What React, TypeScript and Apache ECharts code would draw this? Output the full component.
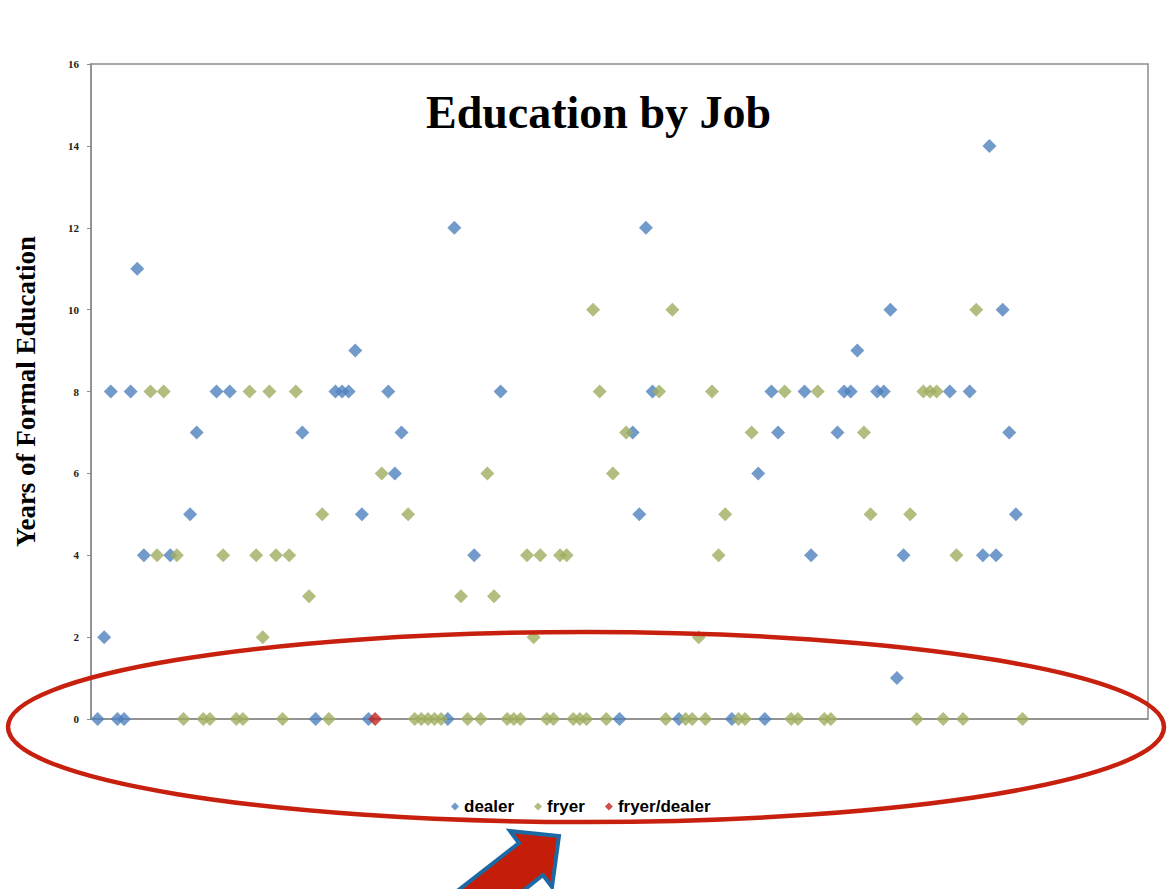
import React, { useEffect, useRef } from "react";
import * as echarts from "echarts";

const titleText = "Education by Job";
const yAxisName = "Years of Formal Education";
const seriesNames = ["dealer", "fryer", "fryer/dealer"];

const dealerX = [1,2,3,4,5,6,7,8,12,15,16,19,21,32,34,37,38,39,40,41,42,45,46,47,54,55,58,62,80,82,83,84,85,89,97,101,102,103,104,108,109,113,114,115,116,119,120,121,122,123,130,133,135,136,137,138,139,140];
const dealerY = [0,2,8,0,0,8,11,4,4,5,7,8,8,7,0,8,8,8,9,5,0,8,6,7,0,12,4,8,0,7,5,12,8,0,0,6,0,8,7,8,4,7,8,8,9,8,8,10,1,4,8,8,4,14,4,10,7,5];

const fryerX = [9,10,11,13,14,17,18,20,22,23,24,25,26,27,28,29,30,31,33,35,36,44,48,49,50,51,52,53,56,57,59,60,61,63,64,65,66,67,68,69,70,71,72,73,74,75,76,77,78,79,81,86,87,88,90,91,92,93,94,95,96,98,99,100,105,106,107,110,111,112,117,118,124,125,126,127,128,129,131,132,134,141];
const fryerY = [8,4,8,4,0,0,0,4,0,0,8,4,2,8,4,0,4,8,3,5,0,6,5,0,0,0,0,0,3,0,0,6,3,0,0,0,4,2,4,0,0,4,4,0,0,0,10,8,0,6,7,8,0,10,0,0,2,0,8,4,5,0,0,7,8,0,0,8,0,0,7,5,5,0,8,8,8,0,4,0,10,0];

const bothX = [43];
const bothY = [0];

const yTicks = [0, 2, 4, 6, 8, 10, 12, 14, 16];

const pair = (xs: number[], ys: number[]) => xs.map((x, i) => [x, ys[i]]);

export default function App() {
  const ref = useRef<HTMLDivElement>(null);
  useEffect(() => {
    if (!ref.current) return;
    const chart = echarts.init(ref.current, null, { renderer: "svg" });
    const serif = "'Liberation Serif', 'DejaVu Serif', serif";
    const colors = ["#4F81BD", "#9FAE5F", "#C0241F"];
    chart.setOption({
      animation: false,
      backgroundColor: "#ffffff",
      color: colors,
      title: {
        text: titleText,
        left: 421,
        top: 84,
        textStyle: { fontFamily: serif, fontWeight: "bold", fontSize: 46, color: "#000" },
      },
      grid: {
        left: 91,
        right: 19,
        top: 64,
        bottom: 170,
        show: true,
        borderColor: "#8C8C8C",
        borderWidth: 1.5,
      },
      legend: {
        data: seriesNames,
        top: 793,
        left: 446,
        icon: "diamond",
        itemWidth: 8,
        itemHeight: 8,
        itemGap: 20,
        textStyle: { fontFamily: "'Liberation Sans', Arial, sans-serif", fontWeight: "bold", fontSize: 17, color: "#000" },
      },
      xAxis: {
        type: "value",
        min: 0,
        max: 160,
        axisLabel: { show: false },
        axisTick: { show: false },
        splitLine: { show: false },
        axisLine: { show: true, lineStyle: { color: "#8C8C8C", width: 1.5 } },
      },
      yAxis: {
        type: "value",
        min: yTicks[0],
        max: yTicks[yTicks.length - 1],
        interval: 2,
        name: yAxisName,
        nameLocation: "middle",
        nameRotate: 90,
        nameGap: 52,
        nameTextStyle: { fontFamily: serif, fontWeight: "bold", fontSize: 27, color: "#000" },
        axisLine: { show: true, lineStyle: { color: "#8C8C8C", width: 1.5 } },
        axisTick: { show: true, length: 4, lineStyle: { color: "#8C8C8C" } },
        splitLine: { show: false },
        axisLabel: { fontFamily: serif, fontWeight: "bold", fontSize: 11, color: "#222", margin: 12 },
      },
      series: [
        { name: seriesNames[0], type: "scatter", symbol: "diamond", symbolSize: [14, 14], data: pair(dealerX, dealerY), z: 2 },
        { name: seriesNames[1], type: "scatter", symbol: "diamond", symbolSize: [14, 14], data: pair(fryerX, fryerY), z: 3 },
        { name: seriesNames[2], type: "scatter", symbol: "diamond", symbolSize: [14, 14], data: pair(bothX, bothY), z: 4 },
      ],
      graphic: [
        {
          type: "ellipse",
          z: 100,
          shape: { cx: 586, cy: 727, rx: 578, ry: 95 },
          style: { fill: "none", stroke: "#C8200E", lineWidth: 4.5 },
        },
        {
          type: "polygon",
          z: 101,
          shape: {
            points: [
              [559, 836],
              [552, 887],
              [543, 875],
              [480, 925],
              [456, 892],
              [519, 843],
              [510, 831],
            ],
          },
          style: { fill: "#C41E0A", stroke: "#1B6AA6", lineWidth: 4, lineJoin: "miter" },
        },
      ],
    });
    return () => chart.dispose();
  }, []);
  return (
    <div style={{ position: "fixed", left: 0, top: 0, width: 1167, height: 889, background: "#fff" }}>
      <div ref={ref} style={{ width: 1167, height: 889 }} />
    </div>
  );
}
